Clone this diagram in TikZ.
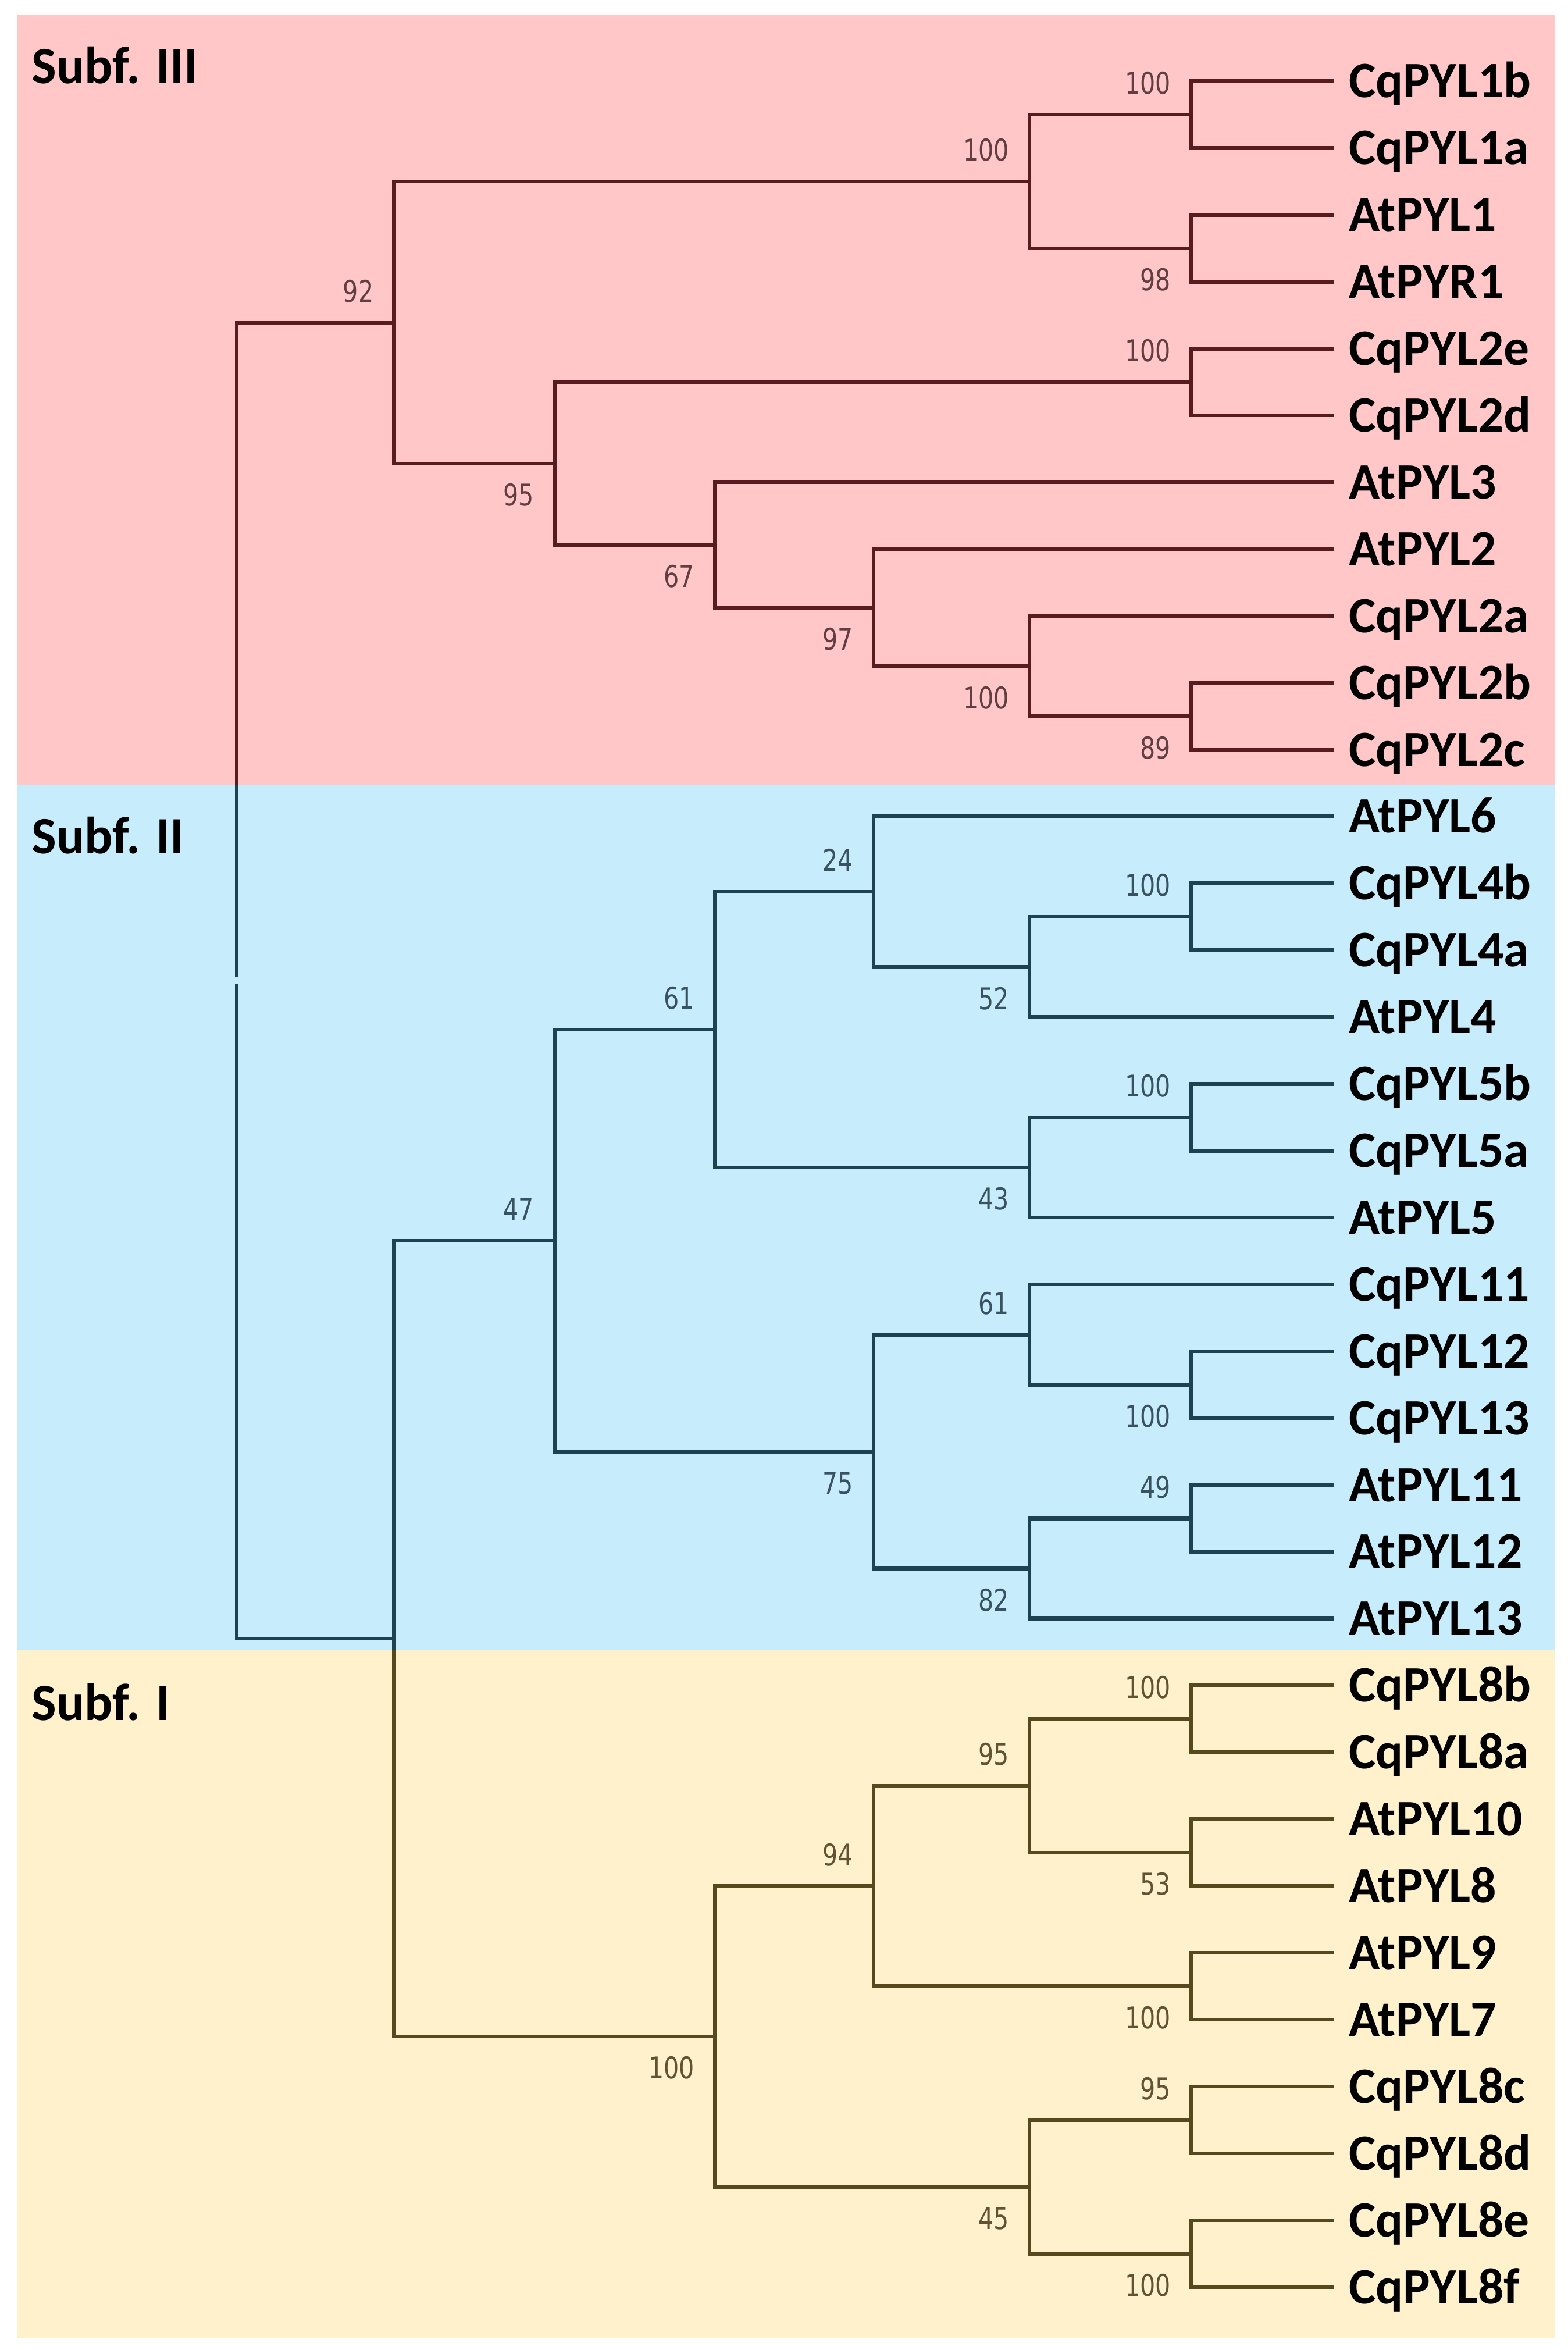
\documentclass[tikz,border=0pt]{standalone}
\usepackage{fontspec}
\setmainfont{Carlito}
\newfontfamily\numfont{DejaVu Sans}
\definecolor{bgP}{RGB}{255,199,200}
\definecolor{bgB}{RGB}{199,237,252}
\definecolor{bgY}{RGB}{255,241,203}
\definecolor{lnP}{RGB}{88,28,32}
\definecolor{lnB}{RGB}{30,66,82}
\definecolor{lnY}{RGB}{88,72,30}
\definecolor{nmP}{RGB}{96,62,66}
\definecolor{nmB}{RGB}{58,82,96}
\definecolor{nmY}{RGB}{96,82,50}
\newcommand\bsnum[1]{\scalebox{0.8}[1]{#1}}
\tikzset{
  br/.style={line width=2.5pt, line join=miter, line cap=butt},
  brP/.style={br, draw=lnP},
  brB/.style={br, draw=lnB},
  brY/.style={br, draw=lnY},
  tip/.style={shorten >=10pt},
  leaf/.style={font=\fontsize{34}{40}\selectfont\bfseries, anchor=west, inner sep=0pt, text height=21.9pt, text depth=0pt, text=black},
  sub/.style={font=\fontsize{35}{40}\selectfont\bfseries, anchor=base west, inner sep=0pt, text=black},
  bs/.style={font=\numfont\fontsize{20}{24}\selectfont, inner sep=0pt, text height=14.6pt, text depth=0pt, anchor=east, xshift=-13.5pt},
  bsA/.style={bs, yshift=21pt},
  bsB/.style={bs, yshift=-21pt},
}
\begin{document}
\begin{tikzpicture}[x=1pt,y=-1pt]
\useasboundingbox (0,0) rectangle (1046,1568);
% backgrounds
\fill[bgP] (11.6,10) rectangle (1038,523.4);
\fill[bgB] (11.6,523.4) rectangle (1038,1101);
\fill[bgY] (11.6,1101) rectangle (1038,1560);
% subfamily labels
\node[sub] (sIII) at (21,55.7) {Subf. III};
\node[sub] (sII) at (21,569.7) {Subf. II};
\node[sub] (sI) at (21,1148) {Subf. I};
% leaves
\node[leaf] (t0) at (900,54.2) {CqPYL1b};
\node[leaf] (t1) at (900,98.8) {CqPYL1a};
\node[leaf] (t2) at (900,143.4) {AtPYL1};
\node[leaf] (t3) at (900,188.0) {AtPYR1};
\node[leaf] (t4) at (900,232.6) {CqPYL2e};
\node[leaf] (t5) at (900,277.2) {CqPYL2d};
\node[leaf] (t6) at (900,321.8) {AtPYL3};
\node[leaf] (t7) at (900,366.4) {AtPYL2};
\node[leaf] (t8) at (900,411.0) {CqPYL2a};
\node[leaf] (t9) at (900,455.6) {CqPYL2b};
\node[leaf] (t10) at (900,500.2) {CqPYL2c};
\node[leaf] (t11) at (900,544.8) {AtPYL6};
\node[leaf] (t12) at (900,589.4) {CqPYL4b};
\node[leaf] (t13) at (900,634.0) {CqPYL4a};
\node[leaf] (t14) at (900,678.6) {AtPYL4};
\node[leaf] (t15) at (900,723.2) {CqPYL5b};
\node[leaf] (t16) at (900,767.8) {CqPYL5a};
\node[leaf] (t17) at (900,812.4) {AtPYL5};
\node[leaf] (t18) at (900,857.0) {CqPYL11};
\node[leaf] (t19) at (900,901.6) {CqPYL12};
\node[leaf] (t20) at (900,946.2) {CqPYL13};
\node[leaf] (t21) at (900,990.8) {AtPYL11};
\node[leaf] (t22) at (900,1035.4) {AtPYL12};
\node[leaf] (t23) at (900,1080.0) {AtPYL13};
\node[leaf] (t24) at (900,1124.6) {CqPYL8b};
\node[leaf] (t25) at (900,1169.2) {CqPYL8a};
\node[leaf] (t26) at (900,1213.8) {AtPYL10};
\node[leaf] (t27) at (900,1258.4) {AtPYL8};
\node[leaf] (t28) at (900,1303.0) {AtPYL9};
\node[leaf] (t29) at (900,1347.6) {AtPYL7};
\node[leaf] (t30) at (900,1392.2) {CqPYL8c};
\node[leaf] (t31) at (900,1436.8) {CqPYL8d};
\node[leaf] (t32) at (900,1481.4) {CqPYL8e};
\node[leaf] (t33) at (900,1526.0) {CqPYL8f};
% internal nodes
\coordinate (a1) at (795,76.5);
\coordinate (a2) at (795,165.7);
\coordinate (a3) at (687,121.1);
\coordinate (b1) at (795,254.9);
\coordinate (c1) at (795,477.9);
\coordinate (c2) at (687,444.45);
\coordinate (c3) at (583,405.4);
\coordinate (c4) at (477,363.6);
\coordinate (b2) at (370,309.3);
\coordinate (r3) at (263,215.2);
\coordinate (d1) at (795,611.7);
\coordinate (d2) at (687,645.15);
\coordinate (d3) at (583,595.0);
\coordinate (e1) at (795,745.5);
\coordinate (e2) at (687,778.95);
\coordinate (f1) at (477,687.0);
\coordinate (g1) at (795,923.9);
\coordinate (g2) at (687,890.45);
\coordinate (h1) at (795,1013.1);
\coordinate (h2) at (687,1046.55);
\coordinate (g3) at (583,968.5);
\coordinate (k1) at (370,827.75);
\coordinate (m1) at (795,1146.9);
\coordinate (m2) at (795,1236.1);
\coordinate (m3) at (687,1191.5);
\coordinate (m4) at (795,1325.3);
\coordinate (m5) at (583,1258.4);
\coordinate (p1) at (795,1414.5);
\coordinate (p2) at (795,1503.7);
\coordinate (p3) at (687,1459.1);
\coordinate (q1) at (477,1358.75);
\coordinate (s1) at (263,1093.25);
\coordinate (root) at (158,654.2);
\coordinate (rb) at (158,523.4);
\coordinate (sb) at (263,1101);
% Subf. III branches
\draw[brP,tip] (a1) |- (t0.west);
\draw[brP,tip] (a1) |- (t1.west);
\draw[brP,tip] (a2) |- (t2.west);
\draw[brP,tip] (a2) |- (t3.west);
\draw[brP] (a3) |- (a1);
\draw[brP] (a3) |- (a2);
\draw[brP,tip] (b1) |- (t4.west);
\draw[brP,tip] (b1) |- (t5.west);
\draw[brP,tip] (c1) |- (t9.west);
\draw[brP,tip] (c1) |- (t10.west);
\draw[brP,tip] (c2) |- (t8.west);
\draw[brP] (c2) |- (c1);
\draw[brP,tip] (c3) |- (t7.west);
\draw[brP] (c3) |- (c2);
\draw[brP,tip] (c4) |- (t6.west);
\draw[brP] (c4) |- (c3);
\draw[brP] (b2) |- (b1);
\draw[brP] (b2) |- (c4);
\draw[brP] (r3) |- (a3);
\draw[brP] (r3) |- (b2);
% Subf. II branches
\draw[brB,tip] (d1) |- (t12.west);
\draw[brB,tip] (d1) |- (t13.west);
\draw[brB] (d2) |- (d1);
\draw[brB,tip] (d2) |- (t14.west);
\draw[brB,tip] (d3) |- (t11.west);
\draw[brB] (d3) |- (d2);
\draw[brB,tip] (e1) |- (t15.west);
\draw[brB,tip] (e1) |- (t16.west);
\draw[brB] (e2) |- (e1);
\draw[brB,tip] (e2) |- (t17.west);
\draw[brB] (f1) |- (d3);
\draw[brB] (f1) |- (e2);
\draw[brB,tip] (g1) |- (t19.west);
\draw[brB,tip] (g1) |- (t20.west);
\draw[brB,tip] (g2) |- (t18.west);
\draw[brB] (g2) |- (g1);
\draw[brB,tip] (h1) |- (t21.west);
\draw[brB,tip] (h1) |- (t22.west);
\draw[brB] (h2) |- (h1);
\draw[brB,tip] (h2) |- (t23.west);
\draw[brB] (g3) |- (g2);
\draw[brB] (g3) |- (h2);
\draw[brB] (k1) |- (f1);
\draw[brB] (k1) |- (g3);
% Subf. I branches
\draw[brY,tip] (m1) |- (t24.west);
\draw[brY,tip] (m1) |- (t25.west);
\draw[brY,tip] (m2) |- (t26.west);
\draw[brY,tip] (m2) |- (t27.west);
\draw[brY] (m3) |- (m1);
\draw[brY] (m3) |- (m2);
\draw[brY,tip] (m4) |- (t28.west);
\draw[brY,tip] (m4) |- (t29.west);
\draw[brY] (m5) |- (m3);
\draw[brY] (m5) |- (m4);
\draw[brY,tip] (p1) |- (t30.west);
\draw[brY,tip] (p1) |- (t31.west);
\draw[brY,tip] (p2) |- (t32.west);
\draw[brY,tip] (p2) |- (t33.west);
\draw[brY] (p3) |- (p1);
\draw[brY] (p3) |- (p2);
\draw[brY] (q1) |- (m5);
\draw[brY] (q1) |- (p3);
% deep branches
\draw[brB] (s1) |- (k1);
\draw[brB] (s1) -- (sb);
\draw[brY] (sb) |- (q1);
\draw[brB,shorten <=2pt] (root) -- (rb);
\draw[brP] (rb) |- (r3);
\draw[brB,shorten <=2pt] (root) |- (s1);
% bootstrap values
\node[bsA,text=nmP] (v_a1) at (a1) {\bsnum{100}};
\node[bsB,text=nmP] (v_a2) at (a2) {\bsnum{98}};
\node[bsA,text=nmP] (v_a3) at (a3) {\bsnum{100}};
\node[bsA,text=nmP] (v_b1) at (b1) {\bsnum{100}};
\node[bsB,text=nmP] (v_c1) at (c1) {\bsnum{89}};
\node[bsB,text=nmP] (v_c2) at (c2) {\bsnum{100}};
\node[bsB,text=nmP] (v_c3) at (c3) {\bsnum{97}};
\node[bsB,text=nmP] (v_c4) at (c4) {\bsnum{67}};
\node[bsB,text=nmP] (v_b2) at (b2) {\bsnum{95}};
\node[bsA,text=nmP] (v_r3) at (r3) {\bsnum{92}};
\node[bsA,text=nmB] (v_d1) at (d1) {\bsnum{100}};
\node[bsB,text=nmB] (v_d2) at (d2) {\bsnum{52}};
\node[bsA,text=nmB] (v_d3) at (d3) {\bsnum{24}};
\node[bsA,text=nmB] (v_e1) at (e1) {\bsnum{100}};
\node[bsB,text=nmB] (v_e2) at (e2) {\bsnum{43}};
\node[bsA,text=nmB] (v_f1) at (f1) {\bsnum{61}};
\node[bsB,text=nmB] (v_g1) at (g1) {\bsnum{100}};
\node[bsA,text=nmB] (v_g2) at (g2) {\bsnum{61}};
\node[bsA,text=nmB] (v_h1) at (h1) {\bsnum{49}};
\node[bsB,text=nmB] (v_h2) at (h2) {\bsnum{82}};
\node[bsB,text=nmB] (v_g3) at (g3) {\bsnum{75}};
\node[bsA,text=nmB] (v_k1) at (k1) {\bsnum{47}};
\node[bsA,text=nmY] (v_m1) at (m1) {\bsnum{100}};
\node[bsB,text=nmY] (v_m2) at (m2) {\bsnum{53}};
\node[bsA,text=nmY] (v_m3) at (m3) {\bsnum{95}};
\node[bsB,text=nmY] (v_m4) at (m4) {\bsnum{100}};
\node[bsA,text=nmY] (v_m5) at (m5) {\bsnum{94}};
\node[bsA,text=nmY] (v_p1) at (p1) {\bsnum{95}};
\node[bsB,text=nmY] (v_p2) at (p2) {\bsnum{100}};
\node[bsB,text=nmY] (v_p3) at (p3) {\bsnum{45}};
\node[bsB,text=nmY] (v_q1) at (q1) {\bsnum{100}};
\end{tikzpicture}
\end{document}
